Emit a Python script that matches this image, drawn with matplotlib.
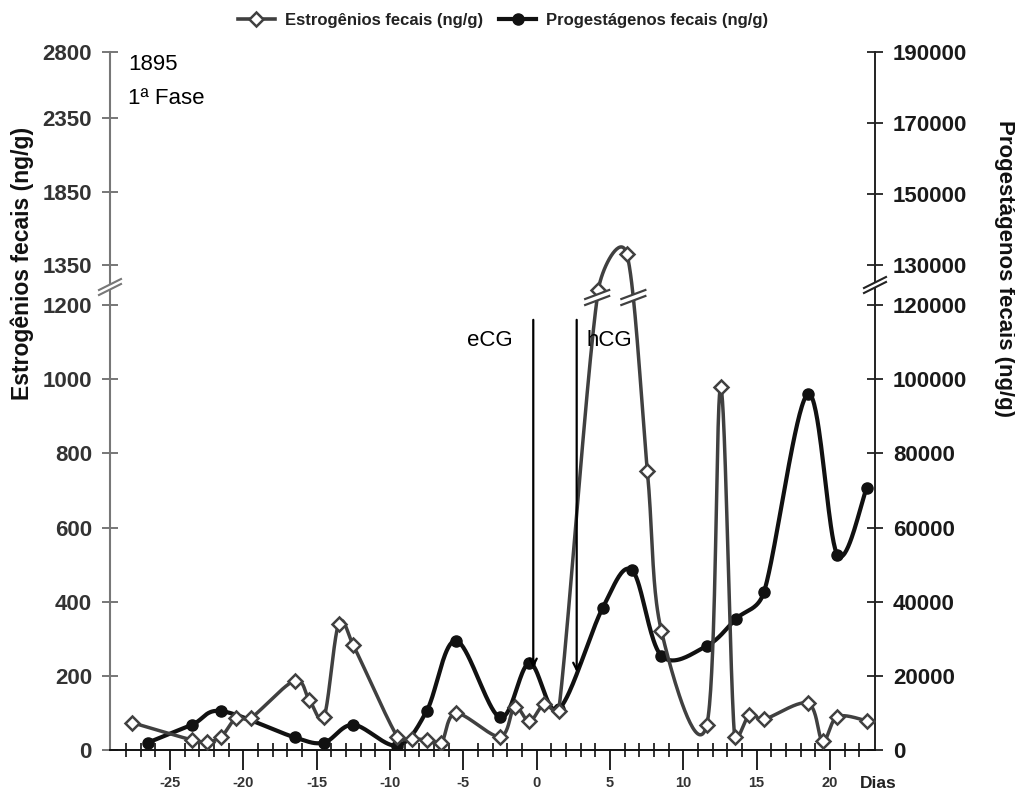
import numpy as np
import matplotlib
matplotlib.use("Agg")
import matplotlib.pyplot as plt
from matplotlib.lines import Line2D
from matplotlib.patches import Polygon
import matplotlib.transforms as mtransforms

plt.rcParams['font.family'] = ['Liberation Sans', 'DejaVu Sans']
plt.rcParams['axes.unicode_minus'] = False

# ---------------- data ----------------
est_days = [-27.6, -23.5, -22.5, -21.5, -20.5, -19.5, -16.5, -15.5, -14.5, -13.5,
            -12.5, -9.5, -8.5, -7.5, -6.5, -5.5, -2.5, -1.5, -0.5, 0.5,
            1.5, 4.2, 6.15, 7.55, 8.5, 11.6, 12.55, 13.5, 14.5, 15.5,
            18.5, 19.5, 20.5, 22.5]
est_vals = [74, 27, 22, 36, 86, 86, 187, 135, 88, 340,
            282, 36, 31, 27, 20, 99, 36, 117, 77, 123,
            105, 1255, 1425, 752, 322, 68, 978, 34, 95, 83,
            126, 24, 90, 79]

prog_days = [-26.5, -23.5, -21.5, -16.5, -14.5, -12.5, -9.5, -7.5, -5.5, -2.5,
             -0.5, 1.5, 4.5, 6.5, 8.5, 11.6, 13.6, 15.5, 18.5, 20.5, 22.5]
prog_vals = [2000, 6800, 10500, 3400, 2000, 6800, 1200, 10500, 29500, 8800,
             23400, 11000, 38300, 48500, 25400, 28100, 35400, 42600, 96000, 52700, 70700]

left_ticks = [0, 200, 400, 600, 800, 1000, 1200, 1350, 1850, 2350, 2800]
right_ticks = [0, 20000, 40000, 60000, 80000, 100000, 120000, 130000, 150000, 170000, 190000]
x_major = [-25, -20, -15, -10, -5, 0, 5, 10, 15, 20]
x_minor = list(range(-28, 23))

event_days = [-0.23, 2.73]
event_names = ['eCG', 'hCG']
event_top = 1160
event_bottom = [221, 210]
event_text_days = [-3.2, 4.95]
event_text_val = 1103

legend_labels = ['Estrogênios fecais (ng/g)', 'Progestágenos fecais (ng/g)']

# ---------------- styles ----------------
EST_C = '#404040'
PROG_C = '#111111'
W, H = 1015, 791
AX_L, AX_R, AX_B, AX_T = 110, 875, 750, 52
XLIM = (-29.09, 23.07)
PX_PER_DAY = (AX_R - AX_L) / (XLIM[1] - XLIM[0])


def piecewise(b1, b2, top):
    P1, P2, PT = 445.0, 485.0, 698.0

    def fwd(v):
        v = np.asarray(v, float)
        lo = v * P1 / b1
        mid = P1 + (v - b1) * (P2 - P1) / (b2 - b1)
        hi = P2 + (v - b2) * (PT - P2) / (top - b2)
        return np.where(v <= b1, lo, np.where(v <= b2, mid, hi))

    def inv(p):
        p = np.asarray(p, float)
        lo = p * b1 / P1
        mid = b1 + (p - P1) * (b2 - b1) / (P2 - P1)
        hi = b2 + (p - P2) * (top - b2) / (PT - P2)
        return np.where(p <= P1, lo, np.where(p <= P2, mid, hi))
    return fwd, inv


def smooth(x, y, n=40):
    """Excel-like smoothed line (Bezier with limited control arms), in pixel space."""
    pts = np.column_stack([np.asarray(x, float) * PX_PER_DAY, np.asarray(y, float)])
    P = np.vstack([pts[0], pts, pts[-1]])
    t = np.linspace(0, 1, n)[:, None]
    out = []
    for i in range(1, len(P) - 2):
        p0, p1, p2, p3 = P[i - 1], P[i], P[i + 1], P[i + 2]
        d12 = np.hypot(*(p2 - p1))
        d02 = np.hypot(*(p2 - p0))
        d13 = np.hypot(*(p3 - p1))
        f1 = 1 / 6.0 if d02 == 0 else min(1 / 6.0, 0.5 * d12 / d02)
        f2 = 1 / 6.0 if d13 == 0 else min(1 / 6.0, 0.5 * d12 / d13)
        c1 = p1 + (p2 - p0) * f1
        c2 = p2 - (p3 - p1) * f2
        seg = ((1 - t) ** 3) * p1 + 3 * ((1 - t) ** 2) * t * c1 + 3 * (1 - t) * t ** 2 * c2 + t ** 3 * p2
        out.append(seg if i == 1 else seg[1:])
    out = np.vstack(out)
    return out[:, 0] / PX_PER_DAY, out[:, 1]


fwd_l, inv_l = piecewise(1200, 1350, 2800)
fwd_r, inv_r = piecewise(120000, 130000, 190000)

fig = plt.figure(figsize=(W / 100, H / 100), dpi=100)
rect = [AX_L / W, (H - AX_B) / H, (AX_R - AX_L) / W, (AX_B - AX_T) / H]
ax = fig.add_axes(rect)
ax2 = ax.twinx()
ax.set_zorder(ax2.get_zorder() + 1)
ax.patch.set_visible(False)

ax.set_yscale('function', functions=(fwd_l, inv_l))
ax2.set_yscale('function', functions=(fwd_r, inv_r))

# progesterone (right axis)
sx, sy = smooth(prog_days, fwd_r(prog_vals))
ax2.plot(sx, inv_r(sy), color=PROG_C, lw=3.0, solid_capstyle='round', zorder=2)
ax2.plot(prog_days, prog_vals, 'o', color=PROG_C, ms=8, zorder=3)

# estrogen (left axis)
ex, ey = smooth(est_days, fwd_l(est_vals))
ax.plot(ex, inv_l(ey), color=EST_C, lw=2.5, zorder=2)
ax.plot(est_days, est_vals, 'D', mfc='white', mec=EST_C, mew=1.8, ms=7, zorder=3)

ax.set_xlim(*XLIM)
ax2.set_xlim(*XLIM)
ax.set_ylim(0, 2800)
ax2.set_ylim(0, 190000)


def break_mark(axis_obj, x, y, half_w, y1a, y1b, y2a, y2b, color, lw, z):
    trans = fig.dpi_scale_trans + mtransforms.ScaledTranslation(x, y, axis_obj.transData)
    s = 0.01
    poly = Polygon([(-half_w * s, y1a * s), (half_w * s, y1b * s),
                    (half_w * s, y2b * s), (-half_w * s, y2a * s)],
                   closed=True, facecolor='white', edgecolor='none',
                   transform=trans, clip_on=False, zorder=z)
    axis_obj.add_artist(poly)
    for (a, b) in [(y1a, y1b), (y2a, y2b)]:
        axis_obj.add_artist(Line2D([-half_w * s, half_w * s], [a * s, b * s], color=color,
                                   lw=lw, transform=trans, clip_on=False, zorder=z + 0.1))


# break marks on estrogen line where it crosses the axis gap
level = 452.0
sgn = np.sign(ey - level)
idx = np.where(np.diff(sgn) != 0)[0]
for i in idx:
    xc = ex[i] + (level - ey[i]) * (ex[i + 1] - ex[i]) / (ey[i + 1] - ey[i])
    break_mark(ax, xc, float(inv_l(level)), 12, -7, 2, -1, 8, EST_C, 1.6, 6)

# break marks on spines
break_mark(ax, XLIM[0], float(inv_l(463)), 11, -8, 3, -3, 8, '#777777', 1.5, 6)
break_mark(ax2, XLIM[1], float(inv_r(465)), 11, -8, 3, -3, 8, '#222222', 1.5, 6)

# event arrows
for d, name, yb, td in zip(event_days, event_names, event_bottom, event_text_days):
    ax.annotate('', xy=(d, yb), xytext=(d, event_top),
                arrowprops=dict(arrowstyle='->,head_length=0.5,head_width=0.25',
                                color='black', lw=1.6, shrinkA=0, shrinkB=0), zorder=5)
    ax.text(td, event_text_val, name, ha='center', va='center', fontsize=16,
            color='black', zorder=5)

# spines
for s in ['top', 'right']:
    ax.spines[s].set_visible(False)
for s in ['top', 'left', 'bottom']:
    ax2.spines[s].set_visible(False)
ax.spines['left'].set_color('#777777')
ax.spines['left'].set_linewidth(1.5)
ax.spines['bottom'].set_color('#111111')
ax.spines['bottom'].set_linewidth(1.4)
ax2.spines['right'].set_color('#222222')
ax2.spines['right'].set_linewidth(1.4)

# y ticks
ax.set_yticks(left_ticks)
ax.set_yticklabels([str(v) for v in left_ticks])
ax.yaxis.set_minor_locator(matplotlib.ticker.NullLocator())
ax.tick_params(axis='y', direction='inout', length=11, width=1.4, color='#777777',
               labelsize=16, pad=7.5, labelcolor='#333333')
ax2.set_yticks(right_ticks)
ax2.set_yticklabels([str(v) for v in right_ticks])
ax2.yaxis.set_minor_locator(matplotlib.ticker.NullLocator())
ax2.tick_params(axis='y', direction='inout', length=11, width=1.3, color='#222222',
                labelsize=16, pad=7.5, labelcolor='#1a1a1a')
for lab in ax.get_yticklabels() + ax2.get_yticklabels():
    lab.set_fontweight('bold')

# x ticks
ax.set_xticks(x_major)
ax.set_xticklabels([str(v) for v in x_major])
ax.set_xticks(x_minor, minor=True)
ax.tick_params(axis='x', which='major', direction='out', length=14.5, width=1.4,
               color='#222222', labelsize=10.5, pad=4, labelcolor='#333333')
ax.tick_params(axis='x', which='minor', direction='inout', length=9.5, width=1.3,
               color='#222222')
for lab in ax.get_xticklabels():
    lab.set_fontweight('bold')
ax2.tick_params(axis='x', which='both', bottom=False, top=False, labelbottom=False)

# axis titles and texts
fig.text(22 / W, 1 - 263 / H, 'Estrogênios fecais (ng/g)', rotation=90, ha='center',
         va='center', fontsize=16.5, fontweight='bold', color='#111111')
fig.text(1005 / W, 1 - 268 / H, 'Progestágenos fecais (ng/g)', rotation=-90, ha='center',
         va='center', fontsize=16, fontweight='bold', color='#111111')
fig.text(878 / W, 1 - 783 / H, 'Dias', ha='center', va='center', fontsize=12.5,
         fontweight='bold', color='#222222')
fig.text(128 / W, 1 - 65 / H, '1895', ha='left', va='center', fontsize=16, color='black')
fig.text(128 / W, 1 - 98 / H, '1ª Fase', ha='left', va='center', fontsize=16, color='black')

# legend
handles = [Line2D([], [], color=EST_C, lw=2.6, marker='D', mfc='white', mec=EST_C,
                  mew=1.8, ms=7),
           Line2D([], [], color=PROG_C, lw=3.0, marker='o', ms=8)]
leg = fig.legend(handles, legend_labels, loc='center', bbox_to_anchor=(503 / W, 1 - 20 / H),
                 ncol=2, frameon=False, fontsize=12, handlelength=2.2, handletextpad=0.6,
                 columnspacing=1.0, borderaxespad=0)
for t in leg.get_texts():
    t.set_fontweight('bold')
    t.set_color('#222222')

fig.savefig('out.png', dpi=100)
